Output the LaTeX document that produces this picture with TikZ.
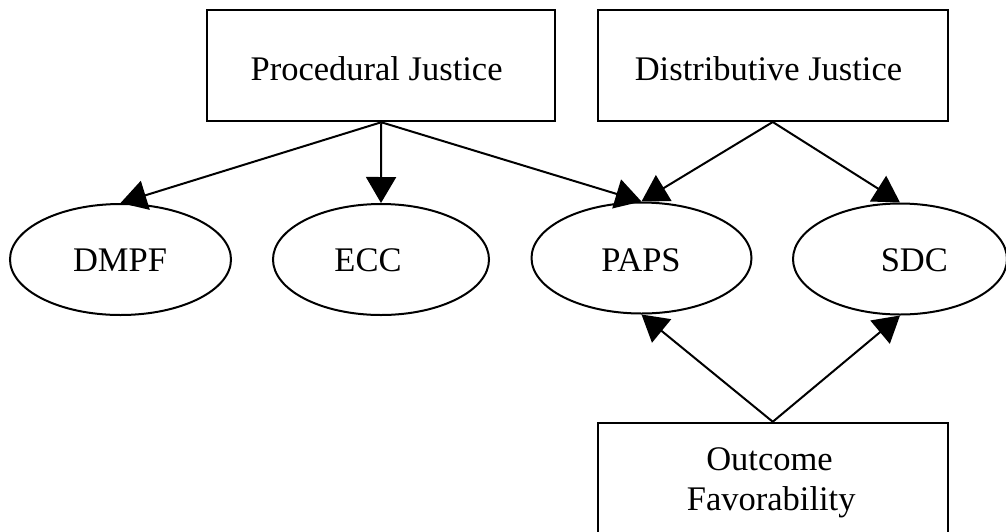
\documentclass[tikz,border=0pt]{standalone}
\usepackage{fontspec}
\setmainfont{Liberation Serif}
\usetikzlibrary{shapes.geometric,arrows.meta}
\begin{document}
\begin{tikzpicture}[x=1pt,y=-1pt,
  box/.style={draw,line width=2pt,rectangle,minimum width=348pt,minimum height=111pt,inner sep=0pt},
  oval/.style={draw,line width=2pt,ellipse,minimum width=220pt,minimum height=111pt,inner sep=0pt},
  lbl/.style={anchor=base,inner sep=0pt,font=\fontsize{34.5}{40}\selectfont},
  link/.style={line width=2pt,-{Triangle[length=26pt,width=30pt]}}]
\useasboundingbox (0,0) rectangle (1006,531);
\clip (0,0) rectangle (1006,531);
\fill[white] (0,0) rectangle (1006,531);
% boxes
\node[box] (pj) at (381.25,65.75) {};
\node[box, minimum width=350.5pt] (dj) at (772.75,65.5) {};
\node[box, minimum width=350.5pt] (of) at (772.75,478.25) {};
% ellipses
\node[oval, minimum width=221pt] (dmpf) at (120.5,259.5) {};
\node[oval, minimum width=216pt] (ecc) at (381,259.5) {};
\node[oval, minimum width=220pt] (paps) at (641.5,258) {};
\node[oval, minimum width=214pt] (sdc) at (900,259) {};
% texts
\node[lbl] (tpj) at (376.6,80.7) {Procedural Justice};
\node[lbl] (tdj) at (768.5,80.5) {Distributive Justice};
\node[lbl] (tdmpf) at (120,271.7) {DMPF};
\node[lbl] (tecc) at (368,271.7) {ECC};
\node[lbl] (tpaps) at (641,271.7) {PAPS};
\node[lbl] (tsdc) at (914.3,271.7) {SDC};
\node[lbl] (tof1) at (769.5,470) {Outcome};
\node[lbl] (tof2) at (771.2,510.7) {Favorability};
% connectors
\draw[link] (pj.south) -- (dmpf.north);
\draw[link] (pj.south) -- (ecc.north);
\draw[link] (pj.south) -- (paps.north);
\draw[link] (dj.south) -- (paps.north);
\draw[link] (dj.south) -- (sdc.north);
\draw[link] (of.north) -- (paps.south);
\draw[link] (of.north) -- (sdc.south);
\end{tikzpicture}
\end{document}
